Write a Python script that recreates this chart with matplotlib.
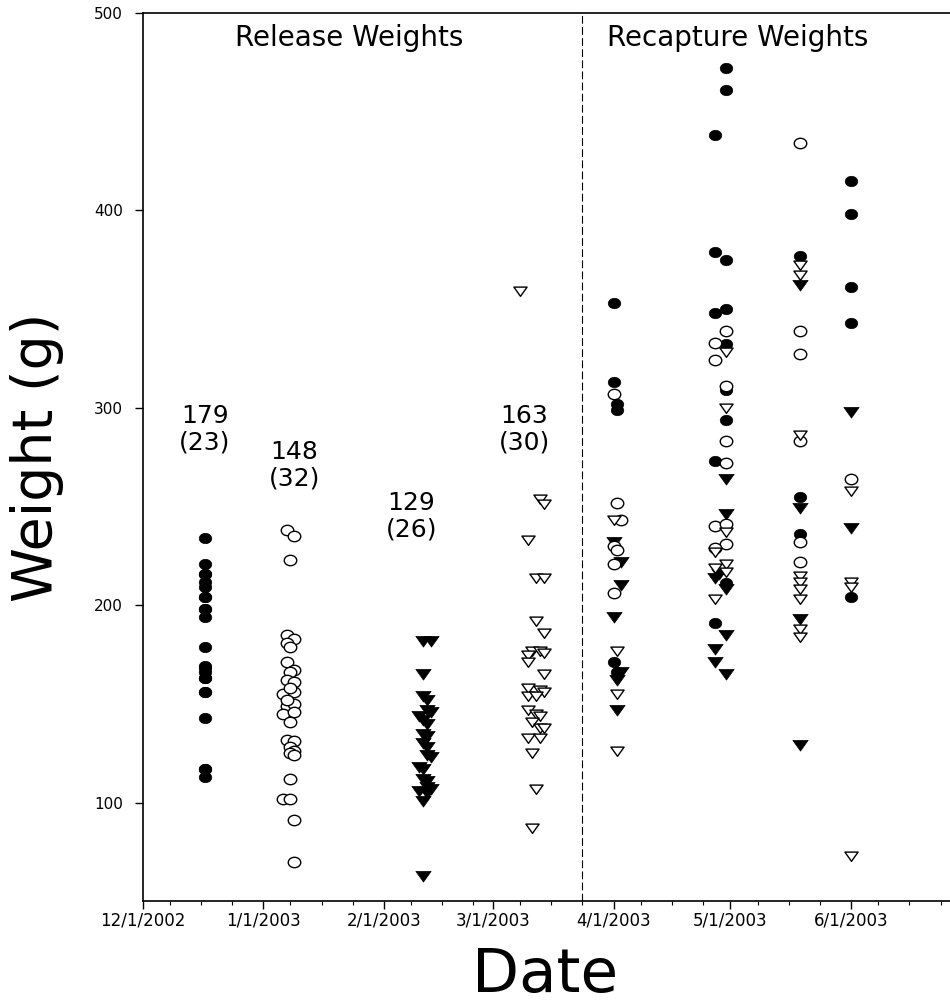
import matplotlib
matplotlib.use('Agg')
import matplotlib.pyplot as plt
import matplotlib.dates as mdates
from matplotlib.path import Path
from matplotlib.markers import MarkerStyle
from matplotlib.transforms import Affine2D
import pandas as pd

# filled circles: December release + their recaptures
fc_date = ['12/17/02'] * 23 + \
    ['4/1/03', '4/1/03', '4/2/03', '4/2/03', '4/1/03', '4/2/03'] + \
    ['4/30/03'] * 8 + ['4/27/03'] * 5 + ['5/19/03'] * 3 + ['6/1/03'] * 5
fc_wt = [234, 221, 216, 216, 212, 209, 204, 204, 198, 198, 194, 179, 169, 168,
         166, 163, 163, 156, 156, 143, 117, 117, 113,
         353, 313, 302, 299, 171, 166,
         472, 461, 375, 350, 332, 309, 294, 211,
         438, 379, 348, 273, 191,
         377, 255, 236,
         415, 398, 361, 343, 204]

# open circles: January release + recaptures
oc_date = ['1/7/03', '1/9/03', '1/8/03', '1/7/03', '1/9/03', '1/7/03', '1/8/03',
           '1/7/03', '1/9/03', '1/8/03', '1/7/03', '1/9/03', '1/6/03', '1/9/03',
           '1/7/03', '1/9/03', '1/6/03', '1/9/03', '1/8/03', '1/7/03', '1/9/03',
           '1/8/03', '1/9/03', '1/8/03', '1/9/03', '1/8/03', '1/6/03', '1/8/03',
           '1/9/03', '1/9/03', '1/8/03', '1/7/03'] + \
    ['4/1/03', '4/2/03', '4/3/03', '4/1/03', '4/2/03', '4/1/03', '4/1/03'] + \
    ['4/30/03', '4/27/03', '4/27/03', '4/30/03', '4/30/03', '4/30/03',
     '4/27/03', '4/30/03', '4/30/03', '4/27/03'] + \
    ['5/19/03'] * 6 + ['6/1/03']
oc_wt = [238, 235, 223, 185, 183, 181, 179, 171, 167, 166, 162, 161, 155, 156,
         149, 150, 145, 146, 141, 132, 131, 128, 126, 125, 124, 112, 102, 102,
         91, 70, 158, 152,
         307, 252, 243, 230, 228, 221, 206,
         339, 333, 324, 311, 283, 272, 240, 241, 231, 229,
         434, 339, 327, 283, 232, 222,
         264]

# filled triangles: February release + recaptures
ft_date = ['2/11/03', '2/13/03', '2/11/03', '2/11/03', '2/12/03', '2/12/03',
           '2/10/03', '2/13/03', '2/11/03', '2/12/03', '2/11/03', '2/12/03',
           '2/11/03', '2/12/03', '2/12/03', '2/13/03', '2/10/03', '2/11/03',
           '2/11/03', '2/12/03', '2/12/03', '2/13/03', '2/10/03', '2/12/03',
           '2/11/03', '2/11/03'] + \
    ['4/1/03', '4/3/03', '4/3/03', '4/1/03', '4/3/03', '4/2/03', '4/2/03'] + \
    ['4/30/03', '4/30/03', '4/27/03', '4/28/03', '4/30/03', '4/30/03',
     '4/27/03', '4/27/03', '4/30/03'] + \
    ['5/19/03'] * 4 + ['6/1/03'] * 2
ft_wt = [182, 182, 165, 154, 152, 147, 144, 146, 142, 140, 135, 134, 130, 128,
         124, 123, 118, 117, 112, 111, 108, 107, 106, 105, 101, 63,
         232, 222, 210, 194, 166, 162, 147,
         264, 246, 214, 216, 208, 185, 178, 171, 165,
         362, 249, 193, 129,
         298, 239]

# open triangles: March release + recaptures
ot_date = ['3/8/03', '3/13/03', '3/14/03', '3/10/03', '3/12/03', '3/14/03',
           '3/12/03', '3/14/03', '3/11/03', '3/13/03', '3/14/03', '3/10/03',
           '3/10/03', '3/14/03', '3/10/03', '3/13/03', '3/14/03', '3/10/03',
           '3/12/03', '3/10/03', '3/12/03', '3/13/03', '3/11/03', '3/13/03',
           '3/14/03', '3/10/03', '3/13/03', '3/11/03', '3/12/03', '3/11/03'] + \
    ['4/1/03', '4/2/03', '4/2/03', '4/2/03'] + \
    ['4/30/03', '4/30/03', '4/30/03', '4/27/03', '4/27/03', '4/30/03',
     '4/30/03', '4/27/03'] + \
    ['5/19/03'] * 9 + ['6/1/03'] * 4
ot_wt = [359, 254, 251, 233, 214, 214, 192, 186, 177, 177, 176, 175, 171, 165,
         158, 157, 156, 154, 154, 147, 145, 144, 141, 138, 138, 133, 133, 125,
         107, 87,
         243, 177, 155, 126,
         328, 300, 237, 227, 219, 221, 217, 203,
         372, 367, 286, 215, 212, 208, 203, 188, 184,
         258, 212, 209, 73]

# mean weight (n) at release
note_date = ['12/17/02', '1/9/03', '2/8/03', '3/9/03']
note_wt = [289, 271, 245, 289]
note_text = ['179\n(23)', '148\n(32)', '129\n(26)', '163\n(30)']

tick_dates = ['12/1/02', '1/1/03', '2/1/03', '3/1/03', '4/1/03', '5/1/03', '6/1/03']
tick_labels = ['12/1/2002', '1/1/2003', '2/1/2003', '3/1/2003', '4/1/2003',
               '5/1/2003', '6/1/2003']
split_date = '3/24/03'


def to_dt(values):
    return pd.to_datetime(values, format='%m/%d/%y')


ellipse = MarkerStyle(Path.unit_circle().transformed(Affine2D().scale(1.2, 1.0)))
tri = MarkerStyle(Path([(-0.75, 0.5), (0.75, 0.5), (0, -0.55), (-0.75, 0.5)],
                       [Path.MOVETO, Path.LINETO, Path.LINETO, Path.CLOSEPOLY]))

fig = plt.figure(figsize=(9.5, 10.07), dpi=100)
ax = fig.add_axes([0.15, 0.1048, 0.8688, 0.8826])

ax.plot(to_dt(fc_date), fc_wt, ls='none', marker=ellipse, ms=9, mfc='black',
        mec='black', mew=0.5, zorder=3)
ax.plot(to_dt(ft_date), ft_wt, ls='none', marker=tri, ms=11, mfc='black',
        mec='black', mew=0.5, zorder=3)
ax.plot(to_dt(oc_date), oc_wt, ls='none', marker=ellipse, ms=9, mfc='white',
        mec='black', mew=1.0, zorder=4)
ax.plot(to_dt(ot_date), ot_wt, ls='none', marker=tri, ms=9.5, mfc='white',
        mec='black', mew=1.0, zorder=4)

ax.axvline(to_dt([split_date])[0], color='black', lw=0.8, ls=(0, (7, 3)), zorder=1)

for d, w, t in zip(to_dt(note_date), note_wt, note_text):
    ax.text(d, w, t, ha='center', va='center', fontsize=18, linespacing=1.15)

ax.text(to_dt(['1/23/03'])[0], 487, 'Release Weights', ha='center', va='center',
        fontsize=20)
ax.text(to_dt(['5/3/03'])[0], 487, 'Recapture Weights', ha='center', va='center',
        fontsize=20)

ax.set_xlim(to_dt(['12/1/02'])[0], to_dt(['7/1/03'])[0])
ax.set_ylim(50, 500)
ax.set_xticks(to_dt(tick_dates))
ax.set_xticklabels(tick_labels)
ax.xaxis.set_minor_locator(mdates.DayLocator(bymonthday=[8, 16, 24]))
ax.set_yticks([100, 200, 300, 400, 500])

ax.tick_params(axis='x', which='major', direction='out', length=5.5, width=1,
               labelsize=12, pad=1.5)
ax.tick_params(axis='x', which='minor', direction='out', length=3, width=0.8)
ax.tick_params(axis='y', direction='out', length=6, width=1, labelsize=11, pad=8)

for side in ['left', 'bottom', 'top']:
    ax.spines[side].set_linewidth(1.2)
ax.spines['right'].set_visible(False)

ax.set_xlabel('Date', fontsize=44, va='center')
ax.set_ylabel('Weight (g)', fontsize=40, va='center')
ax.xaxis.set_label_coords(0.4877, -0.083)
ax.yaxis.set_label_coords(-0.128, 0.5)

fig.savefig('out.png', dpi=100)
